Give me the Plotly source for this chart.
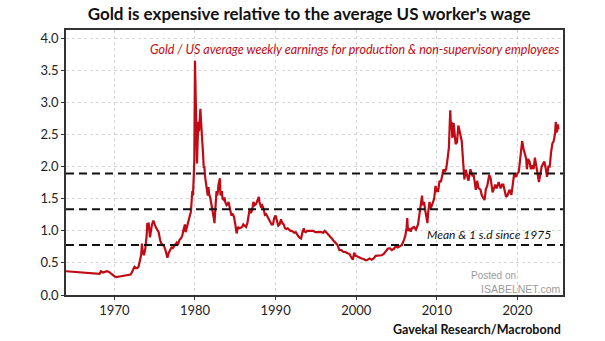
import plotly.graph_objects as go

# Gold price divided by US average weekly earnings (production & non-supervisory)
dates = [
    "1964-01", "1965-01", "1966-01", "1967-01", "1968-01", "1968-03", "1968-05", "1968-08",
    "1968-11", "1969-02", "1969-05", "1969-08", "1969-11", "1970-01", "1970-04", "1970-07",
    "1970-10", "1971-01", "1971-04", "1971-07", "1971-10", "1972-01", "1972-03", "1972-05",
    "1972-07", "1972-09", "1972-11", "1973-01", "1973-03", "1973-05", "1973-06", "1973-07",
    "1973-09", "1973-11", "1974-01", "1974-02", "1974-03", "1974-04", "1974-06", "1974-07",
    "1974-08", "1974-09", "1974-11", "1974-12", "1975-01", "1975-03", "1975-05", "1975-07",
    "1975-09", "1975-11", "1976-01", "1976-03", "1976-05", "1976-07", "1976-08", "1976-10",
    "1976-12", "1977-02", "1977-04", "1977-06", "1977-08", "1977-10", "1977-12", "1978-02",
    "1978-04", "1978-06", "1978-08", "1978-10", "1978-11", "1979-01", "1979-03", "1979-05",
    "1979-07", "1979-09", "1979-10", "1979-11", "1979-12", "1980-01", "1980-02", "1980-03",
    "1980-04", "1980-05", "1980-06", "1980-07", "1980-08", "1980-09", "1980-10", "1980-11",
    "1980-12", "1981-01", "1981-02", "1981-03", "1981-04", "1981-05", "1981-06", "1981-08",
    "1981-09", "1981-10", "1981-12", "1982-01", "1982-03", "1982-05", "1982-06", "1982-07",
    "1982-08", "1982-09", "1982-10", "1982-11", "1982-12", "1983-02", "1983-03", "1983-04",
    "1983-05", "1983-06", "1983-08", "1983-09", "1983-10", "1983-12", "1984-02", "1984-03",
    "1984-05", "1984-07", "1984-09", "1984-11", "1985-01", "1985-02", "1985-03", "1985-05",
    "1985-07", "1985-09", "1985-11", "1986-01", "1986-03", "1986-05", "1986-07", "1986-09",
    "1986-10", "1986-12", "1987-02", "1987-04", "1987-06", "1987-08", "1987-10", "1987-12",
    "1988-01", "1988-03", "1988-05", "1988-07", "1988-09", "1988-11", "1989-01", "1989-03",
    "1989-05", "1989-07", "1989-09", "1989-11", "1990-01", "1990-03", "1990-05", "1990-07",
    "1990-09", "1990-11", "1991-01", "1991-03", "1991-05", "1991-07", "1991-09", "1991-11",
    "1992-01", "1992-03", "1992-05", "1992-07", "1992-09", "1992-11", "1993-01", "1993-03",
    "1993-05", "1993-07", "1993-08", "1993-10", "1993-12", "1994-03", "1994-06", "1994-09",
    "1994-12", "1995-03", "1995-06", "1995-09", "1995-12", "1996-02", "1996-04", "1996-06",
    "1996-09", "1996-12", "1997-03", "1997-06", "1997-09", "1997-12", "1998-03", "1998-06",
    "1998-09", "1998-12", "1999-03", "1999-06", "1999-08", "1999-10", "1999-12", "2000-03",
    "2000-06", "2000-09", "2000-12", "2001-03", "2001-06", "2001-09", "2001-12", "2002-03",
    "2002-06", "2002-09", "2002-12", "2003-03", "2003-06", "2003-09", "2003-12", "2004-03",
    "2004-06", "2004-09", "2004-12", "2005-03", "2005-06", "2005-09", "2005-12", "2006-02",
    "2006-04", "2006-05", "2006-06", "2006-08", "2006-10", "2006-12", "2007-03", "2007-06",
    "2007-09", "2007-11", "2008-01", "2008-03", "2008-04", "2008-06", "2008-08", "2008-10",
    "2008-11", "2008-12", "2009-02", "2009-04", "2009-06", "2009-09", "2009-11", "2010-01",
    "2010-03", "2010-05", "2010-07", "2010-09", "2010-11", "2011-01", "2011-03", "2011-05",
    "2011-07", "2011-08", "2011-09", "2011-10", "2011-11", "2011-12", "2012-01", "2012-02",
    "2012-03", "2012-05", "2012-07", "2012-09", "2012-10", "2012-12", "2013-02", "2013-04",
    "2013-06", "2013-08", "2013-10", "2013-12", "2014-02", "2014-03", "2014-06", "2014-08",
    "2014-11", "2015-01", "2015-03", "2015-06", "2015-08", "2015-11", "2015-12", "2016-02",
    "2016-04", "2016-07", "2016-09", "2016-12", "2017-02", "2017-04", "2017-06", "2017-09",
    "2017-12", "2018-02", "2018-04", "2018-06", "2018-08", "2018-10", "2019-01", "2019-04",
    "2019-06", "2019-08", "2019-11", "2020-01", "2020-03", "2020-05", "2020-07", "2020-08",
    "2020-10", "2020-12", "2021-02", "2021-03", "2021-05", "2021-07", "2021-09", "2021-11",
    "2022-01", "2022-03", "2022-05", "2022-07", "2022-09", "2022-11", "2023-01", "2023-03",
    "2023-05", "2023-07", "2023-09", "2023-11", "2024-01", "2024-03", "2024-05", "2024-07",
    "2024-09", "2024-10", "2024-11", "2024-12", "2025-01", "2025-02",
]

ratio = [
    0.37, 0.36, 0.35, 0.335, 0.32, 0.33, 0.37, 0.35,
    0.36, 0.37, 0.36, 0.34, 0.31, 0.29, 0.28, 0.285,
    0.29, 0.30, 0.30, 0.31, 0.31, 0.32, 0.35, 0.40,
    0.44, 0.42, 0.42, 0.44, 0.56, 0.63, 0.80, 0.70,
    0.62, 0.72, 0.92, 1.12, 1.05, 1.13, 0.90, 0.98,
    1.02, 1.10, 1.16, 1.12, 1.10, 1.05, 1.02, 0.98,
    0.86, 0.80, 0.78, 0.76, 0.70, 0.64, 0.58, 0.66,
    0.70, 0.74, 0.73, 0.76, 0.78, 0.82, 0.80, 0.86,
    0.88, 0.92, 1.02, 1.10, 0.98, 1.06, 1.10, 1.18,
    1.30, 1.62, 1.55, 1.80, 2.10, 3.65, 2.90, 2.10,
    2.05, 2.40, 2.70, 2.55, 2.75, 2.90, 2.70, 2.45,
    2.30, 2.20, 1.98, 2.00, 1.85, 1.78, 1.70, 1.55,
    1.68, 1.58, 1.50, 1.45, 1.30, 1.20, 1.12, 1.25,
    1.50, 1.62, 1.55, 1.60, 1.72, 1.82, 1.55, 1.58,
    1.62, 1.50, 1.48, 1.52, 1.45, 1.40, 1.42, 1.45,
    1.35, 1.25, 1.26, 1.22, 1.10, 1.02, 0.96, 1.06,
    1.04, 1.05, 1.06, 1.10, 1.08, 1.06, 1.12, 1.30,
    1.32, 1.28, 1.32, 1.45, 1.40, 1.42, 1.48, 1.53,
    1.45, 1.38, 1.40, 1.35, 1.25, 1.26, 1.22, 1.18,
    1.12, 1.10, 1.10, 1.20, 1.24, 1.16, 1.08, 1.10,
    1.18, 1.12, 1.10, 1.04, 1.03, 1.04, 1.02, 1.00,
    1.00, 0.98, 0.97, 0.98, 0.94, 0.91, 0.89, 0.88,
    0.98, 1.04, 0.99, 0.98, 1.00, 1.00, 0.99, 1.00,
    0.98, 0.98, 0.99, 0.98, 0.97, 1.00, 0.98, 0.96,
    0.93, 0.89, 0.85, 0.81, 0.78, 0.70, 0.70, 0.67,
    0.67, 0.65, 0.64, 0.58, 0.55, 0.66, 0.61, 0.60,
    0.58, 0.57, 0.56, 0.54, 0.55, 0.57, 0.55, 0.57,
    0.61, 0.61, 0.62, 0.62, 0.64, 0.69, 0.72, 0.73,
    0.70, 0.72, 0.76, 0.74, 0.76, 0.78, 0.86, 0.92,
    1.05, 1.20, 1.00, 1.04, 0.99, 1.04, 1.06, 1.02,
    1.10, 1.28, 1.40, 1.55, 1.40, 1.45, 1.30, 1.18,
    1.12, 1.28, 1.45, 1.35, 1.40, 1.50, 1.70, 1.62,
    1.62, 1.78, 1.76, 1.85, 1.96, 1.92, 1.97, 2.12,
    2.30, 2.60, 2.88, 2.58, 2.70, 2.45, 2.50, 2.68,
    2.52, 2.35, 2.38, 2.64, 2.60, 2.50, 2.40, 2.10,
    1.80, 1.95, 1.88, 1.78, 1.90, 1.96, 1.86, 1.86,
    1.64, 1.78, 1.67, 1.64, 1.55, 1.50, 1.48, 1.65,
    1.70, 1.87, 1.82, 1.60, 1.66, 1.72, 1.66, 1.76,
    1.66, 1.72, 1.72, 1.64, 1.53, 1.55, 1.64, 1.56,
    1.72, 1.88, 1.84, 1.90, 1.92, 2.10, 2.28, 2.40,
    2.28, 2.20, 2.12, 1.96, 2.12, 2.08, 1.96, 2.02,
    1.96, 2.14, 2.00, 1.86, 1.76, 1.88, 2.00, 2.04,
    2.08, 1.98, 1.84, 2.00, 2.00, 2.22, 2.36, 2.40,
    2.52, 2.70, 2.54, 2.55, 2.66, 2.58,
]

# Mean and one standard deviation of the ratio since 1975
mean_since_1975 = 1.335
sd_since_1975 = 0.557
band_levels = [mean_since_1975 + sd_since_1975, mean_since_1975, mean_since_1975 - sd_since_1975]

year_ticks = ["1970-01-01", "1980-01-01", "1990-01-01", "2000-01-01", "2010-01-01", "2020-01-01"]
year_labels = ["1970", "1980", "1990", "2000", "2010", "2020"]
y_ticks = [0.0, 0.5, 1.0, 1.5, 2.0, 2.5, 3.0, 3.5, 4.0]

RED = "#C00A14"
HUMANIST = "Lato, Open Sans, sans-serif"
SANS = "Liberation Sans, Arial, sans-serif"

fig = go.Figure()
fig.add_trace(go.Scatter(
    x=dates, y=ratio, mode="lines",
    line=dict(color=RED, width=2.2),
    showlegend=False, hoverinfo="x+y",
))

for lvl in band_levels:
    fig.add_hline(y=lvl, line=dict(color="#111111", width=2, dash="8px,5px"), layer="above")

fig.update_layout(
    width=605, height=341,
    margin=dict(l=66, r=42, t=30, b=46),
    paper_bgcolor="white", plot_bgcolor="white",
    title=dict(
        text="<b>Gold is expensive relative to the average US worker's wage</b>",
        x=0.511, xanchor="center", y=0.96, yanchor="middle",
        font=dict(family=HUMANIST, size=17, color="#111111"),
    ),
    font=dict(family=HUMANIST, size=12, color="#222222"),
)

fig.update_xaxes(
    type="date", range=["1964-01-01", "2025-08-25"],
    tickvals=year_ticks, ticktext=year_labels,
    showgrid=True, gridcolor="#d4d4d4", griddash="dot", gridwidth=1,
    showline=True, linecolor="#333333", linewidth=1.5, mirror=True,
    ticks="outside", ticklen=3, tickcolor="#333333",
    tickfont=dict(family=HUMANIST, size=13, color="#222222"),
)
fig.update_yaxes(
    range=[0, 4.13], tickvals=y_ticks, tickformat=".1f",
    showgrid=True, gridcolor="#d4d4d4", griddash="dot", gridwidth=1,
    showline=True, linecolor="#333333", linewidth=1.5, mirror=True,
    ticks="outside", ticklen=3, tickcolor="#333333",
    tickfont=dict(family=HUMANIST, size=13, color="#222222"), zeroline=False,
)

fig.add_annotation(
    text="<i>Gold / US average weekly earnings for production &amp; non-supervisory employees</i>",
    xref="paper", yref="paper", x=0.995, y=0.925, xanchor="right", yanchor="middle",
    showarrow=False, font=dict(family=HUMANIST, size=12.5, color=RED),
)
fig.add_annotation(
    text="<i>Mean &amp; 1 s.d since 1975</i>",
    xref="paper", yref="paper", x=0.98, y=0.23, xanchor="right", yanchor="middle",
    showarrow=False, font=dict(family=HUMANIST, size=12, color="#111111"),
)
fig.add_annotation(
    text="Posted on",
    xref="paper", yref="paper", x=0.86, y=0.075, xanchor="center", yanchor="middle",
    showarrow=False, font=dict(family=SANS, size=10, color="#9a9a9a"),
)
fig.add_annotation(
    text="ISABELNET.com",
    xref="paper", yref="paper", x=1.0, y=0.022, xanchor="right", yanchor="middle",
    showarrow=False, font=dict(family=SANS, size=10.5, color="#9a9a9a"),
)
fig.add_annotation(
    text="<b>Gavekal Research/Macrobond</b>",
    xref="paper", yref="paper", x=1.0, y=-0.13, xanchor="right", yanchor="middle",
    showarrow=False, font=dict(family=HUMANIST, size=12.5, color="#111111"),
)

fig.write_html("out.html")
